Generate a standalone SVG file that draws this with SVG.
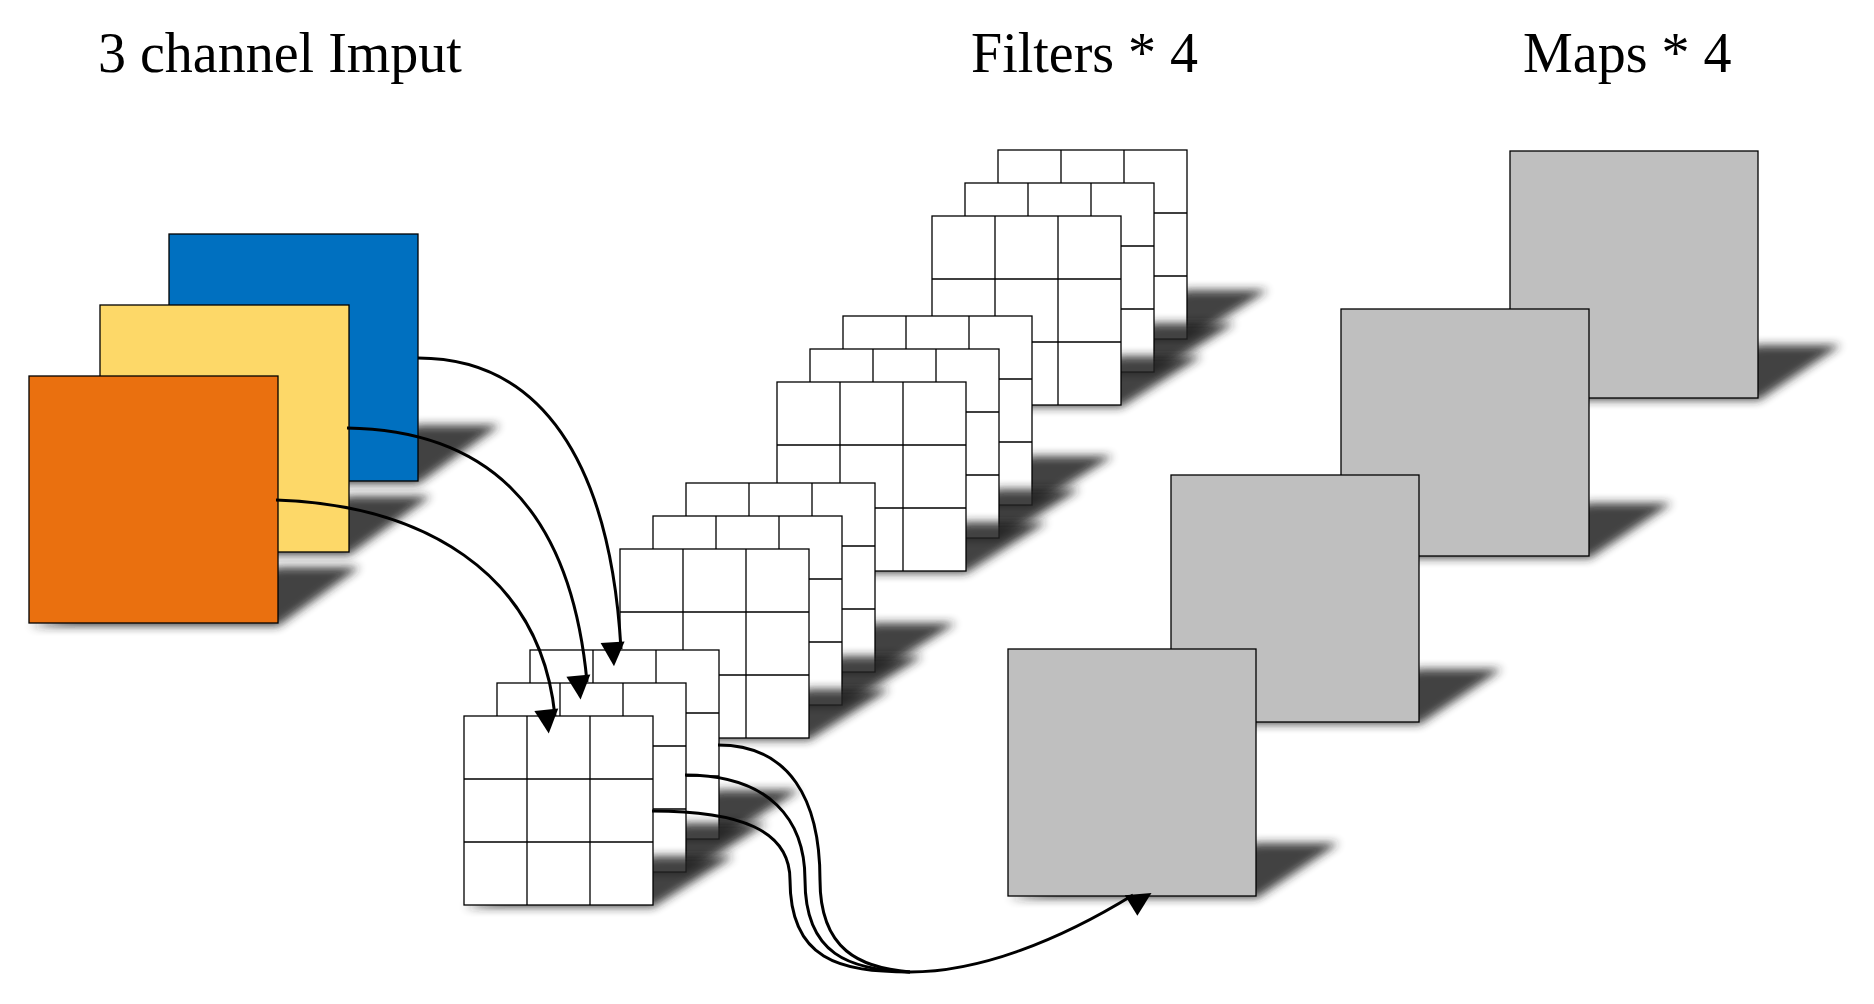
<svg xmlns="http://www.w3.org/2000/svg" width="1874" height="1004" viewBox="0 0 1874 1004">
<style>
.t{font-family:"Liberation Serif","Times New Roman",serif;font-size:56px;fill:#000}
.sq{stroke:#000;stroke-width:1.3}
.cell{fill:#fff;stroke:#000;stroke-width:1.3}
.sh{fill:#222;filter:url(#blur);opacity:0.85}
.c{fill:none;stroke:#000;stroke-width:3}
</style>
<defs>
<filter id="blur" x="-30%" y="-30%" width="160%" height="160%"><feGaussianBlur stdDeviation="5"/></filter>
<marker id="ah" viewBox="0 0 10 10" refX="9" refY="5" markerWidth="8" markerHeight="8" markerUnits="userSpaceOnUse" orient="auto" style="overflow:visible"><path d="M0,0 L10,5 L0,10 z" fill="#000" transform="scale(3)" /></marker>
<g id="grid">
<path class="sh" d="M0,191 L189,191 L270,140 L190,140 z" transform="translate(0,0)"/>
<rect class="cell" x="0" y="0" width="189" height="189"/>
<path d="M63,0V189M126,0V189M0,63H189M0,126H189" stroke="#000" stroke-width="1.3" fill="none"/>
</g>
</defs>
<rect width="1874" height="1004" fill="#fff"/>
<text class="t" x="98" y="72">3 channel Imput</text>
<text class="t" x="971" y="72">Filters * 4</text>
<text class="t" x="1523" y="72">Maps * 4</text>

<g id="input">
<path class="sh" d="M169,484 L418,484 L500,425 L420,425 z"/>
<rect class="sq" x="169" y="234" width="249" height="247" fill="#0070c0"/>
<path class="sh" d="M100,555 L349,555 L431,496 L351,496 z"/>
<rect class="sq" x="100" y="305" width="249" height="247" fill="#fdd868"/>
<path class="sh" d="M29,626 L278,626 L360,567 L280,567 z"/>
<rect class="sq" x="29" y="376" width="249" height="247" fill="#ea700f"/>
</g>

<g id="filter4">
<use href="#grid" x="998" y="150"/><use href="#grid" x="965" y="183"/><use href="#grid" x="932" y="216"/>
</g>
<g id="filter3">
<use href="#grid" x="843" y="316"/><use href="#grid" x="810" y="349"/><use href="#grid" x="777" y="382"/>
</g>
<g id="filter2">
<use href="#grid" x="686" y="483"/><use href="#grid" x="653" y="516"/><use href="#grid" x="620" y="549"/>
</g>
<g id="filter1">
<use href="#grid" x="530" y="650"/><use href="#grid" x="497" y="683"/><use href="#grid" x="464" y="716"/>
</g>

<g id="maps">
<path class="sh" d="M1510,400 L1759,400 L1841,345 L1760,345 z"/>
<rect class="sq" x="1510" y="151" width="248" height="247" fill="#bfbfbf"/>
<path class="sh" d="M1341,558 L1590,558 L1672,503 L1591,503 z"/>
<rect class="sq" x="1341" y="309" width="248" height="247" fill="#bfbfbf"/>
<path class="sh" d="M1171,724 L1420,724 L1502,669 L1421,669 z"/>
<rect class="sq" x="1171" y="475" width="248" height="247" fill="#bfbfbf"/>
<path class="sh" d="M1008,898 L1257,898 L1339,843 L1258,843 z"/>
<rect class="sq" x="1008" y="649" width="248" height="247" fill="#bfbfbf"/>
</g>

<g id="connectors">
<path class="c" marker-end="url(#ah)" d="M418,358 C540,358 610,460 621,649"/>
<path class="c" marker-end="url(#ah)" d="M347,428 C480,430 570,500 587,682"/>
<path class="c" marker-end="url(#ah)" d="M276,500 C420,505 540,570 555,716"/>
<path class="c" d="M718,745 C790,745 820,800 820,880 C820,950 860,968 910,972"/>
<path class="c" d="M685,775 C770,775 805,820 805,880 C805,955 850,970 910,972"/>
<path class="c" marker-end="url(#ah)" d="M652,811 C740,811 790,830 790,880 C790,960 840,972 910,972 C980,972 1060,940 1133,895"/>
</g>
</svg>
